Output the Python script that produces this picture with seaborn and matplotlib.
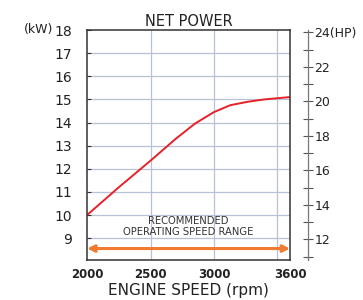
import matplotlib
matplotlib.use("Agg")
import matplotlib.pyplot as plt
import seaborn as sns
import pandas as pd
from matplotlib.ticker import FixedLocator, MultipleLocator, FixedFormatter

# data
rpm = [2000, 2250, 2500, 2700, 2850, 3000, 3130, 3270, 3400, 3600]
kw = [10.0, 11.2, 12.35, 13.3, 13.95, 14.45, 14.75, 14.9, 15.0, 15.1]
x_ticks = [2000, 2500, 3000, 3600]
x_grid = [2500, 3000, 3500]
kw_ticks = [9, 10, 11, 12, 13, 14, 15, 16, 17, 18]
hp_ticks = [12, 14, 16, 18, 20, 22, 24]
hp_labels = ["12", "14", "16", "18", "20", "22", "24(HP)"]
KW_TO_HP = 1.341

sns.set_theme(style="white")
plt.rcParams['font.family'] = ['DejaVu Sans']

fig = plt.figure(figsize=(3.63, 3.00), dpi=100)
ax = fig.add_axes([0.240, 0.133, 0.559, 0.767])

df = pd.DataFrame({"rpm": rpm, "kw": kw})
sns.lineplot(data=df, x="rpm", y="kw", ax=ax, color="#e8202a", linewidth=1.4)

ax.set_xlim(2000, 3600)
ax.set_ylim(8.05, 18)
ax.set_xticks(x_ticks)
ax.set_yticks(kw_ticks)
ax.set_xticklabels([str(t) for t in x_ticks], fontweight="bold")
ax.set_yticklabels([str(t) for t in kw_ticks])
ax.tick_params(axis="both", direction="in", length=3, width=0.8, color="#333333",
               labelcolor="#222222")
ax.tick_params(axis="x", pad=6, labelsize=8.5)
ax.tick_params(axis="y", pad=11, labelsize=10)

for g in x_grid:
    ax.axvline(g, color="#b7c2d6", linewidth=0.9, zorder=0)
for g in kw_ticks[:-1]:
    ax.axhline(g, color="#b7c2d6", linewidth=0.9, zorder=0)

for s in ax.spines.values():
    s.set_color("#333333")
    s.set_linewidth(1.1)

ax.set_xlabel("ENGINE SPEED (rpm)", fontsize=11, color="#222222", labelpad=1)
ax.set_ylabel("")
ax.set_title("NET POWER", fontsize=10.5, color="#222222", pad=3)
ax.text(-0.165, 18, "(kW)", transform=ax.get_yaxis_transform(), ha="right",
        va="center", fontsize=9, color="#222222")

# arrow & text
ax.annotate("", xy=(3600, 8.55), xytext=(2000, 8.55),
            arrowprops=dict(arrowstyle="<|-|>", color="#f07a30", lw=2.2,
                            mutation_scale=10, shrinkA=0, shrinkB=0))
ax.text(2800, 9.5, "RECOMMENDED\nOPERATING SPEED RANGE", ha="center", va="center",
        fontsize=7.2, color="#333333", linespacing=1.15)

# right HP axis
ax2 = ax.twinx()
ax2.set_ylim(8.05 * KW_TO_HP, 18 * KW_TO_HP)
ax2.yaxis.set_major_locator(FixedLocator(hp_ticks))
ax2.yaxis.set_major_formatter(FixedFormatter(hp_labels))
ax2.yaxis.set_minor_locator(MultipleLocator(1))
for k in ["top", "bottom", "left"]:
    ax2.spines[k].set_visible(False)
ax2.spines["right"].set_position(("axes", 1.089))
ax2.spines["right"].set_color("#777777")
ax2.spines["right"].set_linewidth(0.9)
ax2.tick_params(axis="y", which="major", direction="inout", length=7, width=0.8,
                color="#555555", pad=1, labelsize=9, labelcolor="#222222")
ax2.tick_params(axis="y", which="minor", direction="inout", length=7, width=0.8, color="#555555")
ax2.grid(False)

fig.savefig("out.png", dpi=100)
